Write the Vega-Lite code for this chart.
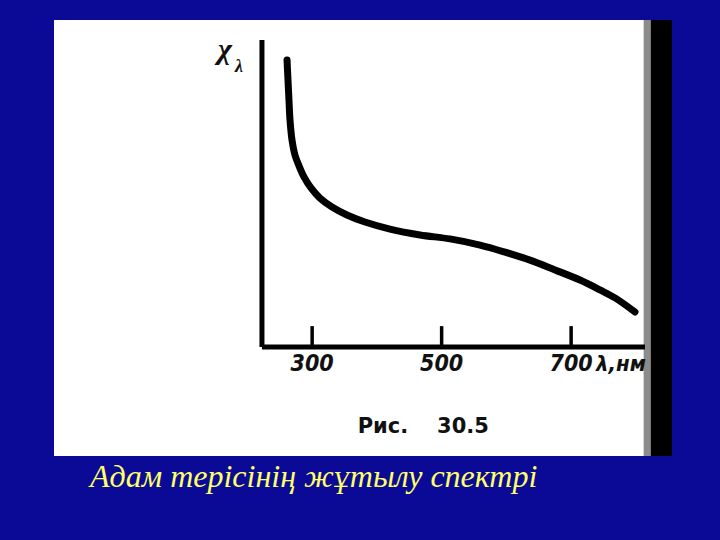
{
  "$schema": "https://vega.github.io/schema/vega-lite/v6.json",
  "autosize": "none",
  "width": 618,
  "height": 436,
  "padding": {"left": 54, "top": 20, "right": 48, "bottom": 84},
  "background": "#0a0a96",
  "config": {"view": {"fill": "white", "stroke": null}},
  "title": {
    "text": "Адам терісінің жұтылу спектрі",
    "orient": "bottom",
    "anchor": "start",
    "frame": "group",
    "color": "#ffff66",
    "font": "Liberation Serif",
    "fontStyle": "italic",
    "fontWeight": "normal",
    "fontSize": 32,
    "offset": 6,
    "dx": 36
  },
  "datasets": {
    "curve": [
      {"nm": 261.2, "v": 93.5},
      {"nm": 262.7, "v": 87.0},
      {"nm": 264.2, "v": 80.5},
      {"nm": 265.8, "v": 73.9},
      {"nm": 268.9, "v": 67.4},
      {"nm": 273.5, "v": 62.5},
      {"nm": 279.7, "v": 59.0},
      {"nm": 287.4, "v": 55.4},
      {"nm": 298.2, "v": 51.8},
      {"nm": 312.1, "v": 48.5},
      {"nm": 330.7, "v": 45.6},
      {"nm": 353.8, "v": 43.0},
      {"nm": 381.6, "v": 40.7},
      {"nm": 420.2, "v": 38.4},
      {"nm": 466.6, "v": 36.5},
      {"nm": 512.9, "v": 35.2},
      {"nm": 559.3, "v": 33.2},
      {"nm": 597.9, "v": 30.9},
      {"nm": 636.5, "v": 28.3},
      {"nm": 675.1, "v": 25.1},
      {"nm": 713.7, "v": 21.8},
      {"nm": 744.6, "v": 18.6},
      {"nm": 767.8, "v": 16.0},
      {"nm": 798.7, "v": 11.4}
    ],
    "axes": [
      {"nm": 222.5, "nm2": 222.5, "v": 0, "v2": 100},
      {"nm": 222.5, "nm2": 814.0, "v": 0, "v2": 0}
    ],
    "ticks": [
      {"nm": 300, "v": 0, "v2": 6.8},
      {"nm": 500, "v": 0, "v2": 6.8},
      {"nm": 700, "v": 0, "v2": 6.8}
    ],
    "ticklabels": [
      {"nm": 300, "v": -5.5, "label": "300"},
      {"nm": 500, "v": -5.5, "label": "500"},
      {"nm": 700, "v": -5.5, "label": "700"}
    ],
    "xtitle": [{"nm": 738.4, "v": -5.5, "label": "λ,нм"}],
    "ytitle": [
      {"nm": 165.4, "v": 96.7, "label": "χ", "size": "big"},
      {"nm": 187.0, "v": 91.2, "label": "λ", "size": "small"}
    ],
    "caption": [
      {"nm": 409.4, "v": -26.1, "label": "Рис."},
      {"nm": 533.0, "v": -26.1, "label": "30.5"}
    ],
    "edge": [
      {"nm": 822.9, "nm2": 855.8, "v": -35.5, "v2": 106.5, "part": "solid"},
      {"nm": 812.0, "nm2": 822.9, "v": -35.5, "v2": 106.5, "part": "fringe"}
    ]
  },
  "encoding": {
    "x": {"field": "nm", "type": "quantitative", "axis": null,
          "scale": {"domain": [-98.7, 855.8], "nice": false, "zero": false}},
    "y": {"field": "v", "type": "quantitative", "axis": null,
          "scale": {"domain": [-35.5, 106.5], "nice": false, "zero": false}}
  },
  "layer": [
    {
      "data": {"name": "edge"},
      "mark": {"type": "rect", "color": "black"},
      "encoding": {
        "x2": {"field": "nm2"},
        "y2": {"field": "v2"},
        "opacity": {"field": "part", "type": "nominal", "legend": null,
                    "scale": {"domain": ["solid", "fringe"], "range": [1, 0.45]}}
      }
    },
    {
      "data": {"name": "axes"},
      "mark": {"type": "rule", "color": "black", "strokeWidth": 5},
      "encoding": {"x2": {"field": "nm2"}, "y2": {"field": "v2"}}
    },
    {
      "data": {"name": "ticks"},
      "mark": {"type": "rule", "color": "black", "strokeWidth": 3.5},
      "encoding": {"y2": {"field": "v2"}}
    },
    {
      "data": {"name": "curve"},
      "mark": {"type": "line", "color": "black", "strokeWidth": 7, "interpolate": "catmull-rom", "strokeCap": "round", "strokeJoin": "round"},
      "encoding": {}
    },
    {
      "data": {"name": "ticklabels"},
      "mark": {"type": "text", "color": "#111", "font": "DejaVu Sans Condensed, sans-serif",
               "fontSize": 23, "fontWeight": "bold", "fontStyle": "italic", "align": "center", "baseline": "middle"},
      "encoding": {"text": {"field": "label"}}
    },
    {
      "data": {"name": "xtitle"},
      "mark": {"type": "text", "color": "#111", "font": "DejaVu Sans Condensed, sans-serif",
               "fontSize": 22, "fontWeight": "bold", "fontStyle": "italic", "align": "left", "baseline": "middle"},
      "encoding": {"text": {"field": "label"}}
    },
    {
      "data": {"name": "ytitle"},
      "mark": {"type": "text", "color": "#111", "font": "Liberation Serif",
               "fontWeight": "bold", "fontStyle": "italic", "align": "center", "baseline": "middle"},
      "encoding": {
        "text": {"field": "label"},
        "size": {"field": "size", "type": "nominal", "legend": null,
                 "scale": {"domain": ["big", "small"], "range": [30, 18]}}
      }
    },
    {
      "data": {"name": "caption"},
      "mark": {"type": "text", "color": "#111", "font": "DejaVu Sans", "fontSize": 21,
               "fontWeight": "bold", "align": "center", "baseline": "middle"},
      "encoding": {"text": {"field": "label"}}
    }
  ]
}
